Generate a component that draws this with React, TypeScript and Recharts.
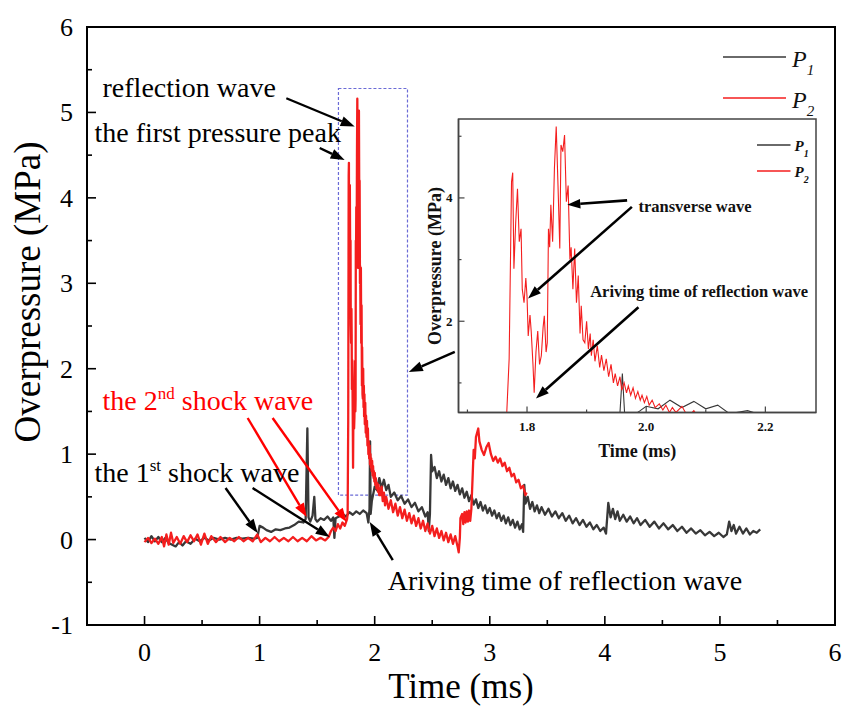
import React from "react";
import {
  LineChart,
  Line,
  XAxis,
  YAxis,
  ReferenceArea,
  ReferenceLine,
  ReferenceDot,
} from "recharts";

type Pt = [number, number];

// P1 (black) — time (ms), overpressure (MPa)
const p1Quiet: Pt[] = [
  [0.0, 0.02], [0.03, -0.03], [0.06, 0.04], [0.09, -0.02], [0.12, 0.03], [0.15, -0.03],
  [0.18, 0.02], [0.21, -0.04], [0.24, -0.06], [0.27, -0.08], [0.3, -0.03], [0.33, -0.07],
  [0.36, -0.02], [0.4, -0.05], [0.44, 0.01], [0.48, -0.02], [0.52, 0.02], [0.56, -0.01],
  [0.6, 0.02], [0.65, 0.0], [0.7, 0.02], [0.75, 0.0], [0.8, 0.02], [0.85, 0.01],
  [0.9, 0.02], [0.95, 0.01], [0.98, 0.02],
];
const p1FirstShock: Pt[] = [
  [1.0, 0.16], [1.03, 0.14], [1.06, 0.11], [1.1, 0.09], [1.14, 0.12], [1.18, 0.11],
  [1.22, 0.13], [1.26, 0.14], [1.3, 0.17], [1.34, 0.21], [1.38, 0.2], [1.4, 0.24],
  [1.415, 1.3], [1.425, 0.26], [1.44, 0.21], [1.46, 0.28], [1.475, 0.5], [1.485, 0.24],
  [1.5, 0.21], [1.53, 0.25], [1.56, 0.23], [1.59, 0.27], [1.62, 0.22], [1.64, 0.26],
  [1.65, 0.02], [1.66, 0.25], [1.69, 0.27], [1.72, 0.3], [1.75, 0.27], [1.78, 0.32],
  [1.81, 0.29], [1.84, 0.33], [1.87, 0.3], [1.9, 0.34], [1.93, 0.31], [1.945, 0.2],
  [1.955, 0.36], [1.96, 1.15], [1.965, 0.3],
];
const p1Reflected: Pt[] = [
  [1.975, 0.45], [1.99, 0.55], [2.0, 0.62], [2.02, 0.58], [2.04, 0.72], [2.06, 0.6],
  [2.08, 0.7], [2.1, 0.58], [2.12, 0.64], [2.14, 0.5], [2.17, 0.55], [2.2, 0.46],
  [2.23, 0.51], [2.26, 0.42], [2.29, 0.47], [2.32, 0.38], [2.35, 0.43], [2.38, 0.33],
  [2.41, 0.38], [2.44, 0.27], [2.46, 0.32], [2.47, 0.1], [2.48, 0.3],
];
const p1SecondRise: Pt[] = [
  [2.49, 0.99], [2.5, 0.8], [2.52, 0.85], [2.54, 0.72], [2.56, 0.8], [2.58, 0.68],
  [2.6, 0.76], [2.62, 0.64], [2.64, 0.72], [2.66, 0.6], [2.68, 0.68], [2.7, 0.57],
  [2.72, 0.64], [2.74, 0.53], [2.76, 0.6], [2.78, 0.49], [2.8, 0.56], [2.82, 0.45],
  [2.84, 0.52], [2.86, 0.41], [2.88, 0.47], [2.9, 0.37], [2.92, 0.44], [2.94, 0.34],
  [2.96, 0.4], [2.98, 0.31], [3.0, 0.37], [3.02, 0.28], [3.04, 0.34], [3.06, 0.25],
  [3.08, 0.31], [3.1, 0.22], [3.12, 0.28], [3.14, 0.19], [3.16, 0.26], [3.18, 0.17],
  [3.2, 0.23], [3.22, 0.14], [3.24, 0.21], [3.26, 0.12], [3.28, 0.18], [3.29, 0.09],
];
const p1Late: Pt[] = [
  [3.3, 0.64], [3.31, 0.42], [3.33, 0.5], [3.35, 0.36], [3.37, 0.44], [3.39, 0.33],
  [3.41, 0.4], [3.43, 0.31], [3.45, 0.38], [3.48, 0.29], [3.51, 0.36], [3.54, 0.27],
  [3.57, 0.33], [3.6, 0.25], [3.63, 0.31], [3.66, 0.22], [3.69, 0.28], [3.72, 0.19],
  [3.75, 0.25], [3.78, 0.17], [3.81, 0.23], [3.84, 0.15], [3.87, 0.2], [3.9, 0.12],
  [3.93, 0.17], [3.96, 0.1], [3.99, 0.14], [4.01, 0.07], [4.03, 0.43], [4.05, 0.26],
  [4.07, 0.36], [4.09, 0.24], [4.11, 0.33], [4.13, 0.22], [4.16, 0.29], [4.19, 0.21],
  [4.22, 0.27], [4.25, 0.19], [4.28, 0.25], [4.31, 0.17], [4.35, 0.23], [4.39, 0.15],
  [4.43, 0.21], [4.47, 0.13], [4.51, 0.19], [4.55, 0.12], [4.59, 0.17], [4.63, 0.1],
  [4.67, 0.15], [4.71, 0.08], [4.75, 0.13], [4.79, 0.07], [4.83, 0.11], [4.87, 0.05],
  [4.91, 0.09], [4.95, 0.04], [4.99, 0.08], [5.03, 0.03], [5.06, 0.06], [5.08, 0.21],
  [5.1, 0.1], [5.12, 0.17], [5.14, 0.07], [5.17, 0.15], [5.2, 0.07], [5.23, 0.13],
  [5.26, 0.06], [5.29, 0.1], [5.32, 0.08], [5.35, 0.12],
];

// P2 (red)
const p2Quiet: Pt[] = [
  [0.0, -0.03], [0.03, 0.02], [0.06, -0.04], [0.09, 0.01], [0.12, -0.05], [0.15, 0.03],
  [0.17, -0.08], [0.19, 0.06], [0.21, -0.06], [0.23, 0.08], [0.25, -0.04], [0.28, 0.03],
  [0.31, -0.05], [0.34, 0.04], [0.37, -0.03], [0.4, 0.05], [0.43, -0.02], [0.46, 0.06],
  [0.49, -0.06], [0.52, 0.07], [0.55, -0.05], [0.58, 0.04], [0.62, -0.03], [0.66, 0.03],
  [0.7, -0.03], [0.74, 0.02], [0.78, -0.02], [0.82, 0.03], [0.86, -0.02], [0.9, 0.02],
  [0.94, -0.02], [0.98, 0.06], [1.01, -0.03], [1.05, 0.02], [1.09, -0.02], [1.13, 0.03],
  [1.17, -0.02], [1.21, 0.02], [1.25, -0.02], [1.29, 0.03], [1.33, -0.02], [1.37, 0.02],
  [1.41, -0.02], [1.45, 0.04], [1.49, -0.01], [1.53, 0.02], [1.57, -0.01], [1.6, 0.03],
  [1.62, 0.1], [1.64, 0.14], [1.66, 0.1], [1.68, 0.18], [1.7, 0.13], [1.72, 0.2],
  [1.74, 0.16], [1.76, 0.24], [1.765, 0.3],
];
const p2Peak: Pt[] = [
  [1.77, 1.39], [1.774, 4.26], [1.776, 4.41], [1.778, 2.85], [1.781, 3.6], [1.784, 4.15],
  [1.787, 3.29], [1.79, 3.5], [1.792, 2.52], [1.795, 2.3], [1.798, 2.7], [1.8, 2.4],
  [1.802, 1.76], [1.805, 2.1], [1.807, 1.84], [1.81, 1.3], [1.812, 0.84], [1.815, 1.5],
  [1.818, 1.84], [1.821, 1.3], [1.824, 1.44], [1.827, 1.9], [1.829, 2.09], [1.832, 1.5],
  [1.834, 1.65], [1.836, 3.5], [1.838, 3.2], [1.84, 3.89], [1.843, 3.29], [1.846, 4.48],
  [1.849, 5.16], [1.852, 4.2], [1.855, 3.18], [1.857, 4.86], [1.86, 4.75], [1.863, 5.02],
  [1.866, 3.94], [1.869, 4.2], [1.872, 3.0], [1.874, 3.2], [1.877, 2.52], [1.88, 3.18],
  [1.883, 2.3], [1.886, 2.74], [1.889, 1.8], [1.891, 2.25], [1.894, 1.7], [1.897, 1.65],
  [1.9, 2.0], [1.903, 1.55], [1.906, 1.8], [1.908, 1.44], [1.911, 1.7], [1.914, 1.35],
  [1.918, 1.6], [1.922, 1.25], [1.925, 1.45], [1.929, 1.2], [1.933, 1.39], [1.937, 1.1],
  [1.941, 1.3], [1.945, 1.0], [1.948, 1.15], [1.952, 0.95], [1.956, 1.1], [1.959, 0.88],
  [1.963, 1.0], [1.967, 0.84], [1.97, 0.95], [1.974, 0.8], [1.978, 0.92], [1.982, 0.75],
  [1.986, 0.86], [1.99, 0.72], [1.993, 0.8], [1.997, 0.68], [2.001, 0.78], [2.005, 0.64],
  [2.01, 0.72], [2.015, 0.6], [2.022, 0.66], [2.028, 0.56], [2.033, 0.64], [2.039, 0.52],
  [2.044, 0.6],
];
const p2Decay: Pt[] = [
  [2.05, 0.52], [2.06, 0.62], [2.07, 0.45], [2.08, 0.55], [2.09, 0.4], [2.1, 0.5],
  [2.12, 0.36], [2.14, 0.46], [2.16, 0.32], [2.18, 0.42], [2.2, 0.28], [2.22, 0.38],
  [2.24, 0.25], [2.26, 0.35], [2.28, 0.22], [2.3, 0.31], [2.32, 0.19], [2.34, 0.28],
  [2.36, 0.16], [2.38, 0.25], [2.4, 0.13], [2.42, 0.22], [2.44, 0.1], [2.46, 0.19],
  [2.48, 0.07], [2.5, 0.16], [2.52, 0.04], [2.54, 0.13], [2.56, 0.02], [2.58, 0.1],
  [2.6, -0.01], [2.62, 0.08], [2.64, -0.03], [2.66, 0.06], [2.68, -0.05], [2.7, 0.04],
  [2.72, -0.08], [2.73, -0.15], [2.74, 0.02], [2.745, 0.25], [2.76, 0.3], [2.77, 0.18],
  [2.78, 0.32], [2.79, 0.2], [2.8, 0.33], [2.81, 0.21], [2.82, 0.34], [2.83, 0.22],
  [2.84, 0.36],
];
const p2SecondPeak: Pt[] = [
  [2.85, 0.7], [2.86, 1.05], [2.87, 0.95], [2.88, 1.2], [2.9, 1.3], [2.91, 1.15],
  [2.93, 1.05], [2.95, 0.99], [2.97, 1.08], [2.99, 1.13], [3.01, 1.0], [3.03, 0.92],
  [3.05, 0.97], [3.07, 0.9], [3.09, 0.95], [3.11, 0.86], [3.13, 0.9], [3.15, 0.8],
  [3.17, 0.84], [3.19, 0.74], [3.21, 0.77], [3.23, 0.67], [3.25, 0.7], [3.27, 0.6],
  [3.29, 0.63], [3.31, 0.52], [3.32, 0.55],
];

const toRows = (pts: Pt[]) => pts.map(([t, v]) => ({ t, v }));

const series = [
  { name: "P", sub: "1", color: "#383838", data: toRows([...p1Quiet, ...p1FirstShock, ...p1Reflected, ...p1SecondRise, ...p1Late]) },
  { name: "P", sub: "2", color: "#f41e1e", data: toRows([...p2Quiet, ...p2Peak, ...p2Decay, ...p2SecondPeak]) },
];

const xTicks = [0, 0.5, 1, 1.5, 2, 2.5, 3, 3.5, 4, 4.5, 5, 5.5, 6];
const yTicks = [-1, -0.5, 0, 0.5, 1, 1.5, 2, 2.5, 3, 3.5, 4, 4.5, 5, 5.5, 6];
const insetXTicks = [1.7, 1.8, 1.9, 2.0, 2.1, 2.2];
const insetYTicks = [1, 2, 3, 4, 5];
const zoomX: [number, number] = [1.685, 2.285];
const zoomY: [number, number] = [0.52, 5.28];

const RED = "#ff0000";
const SERIF = "'Liberation Serif', 'Times New Roman', serif";

// annotations, in data coordinates
const mainNotes = [
  { t: -0.365, v: 5.18, color: "#000", text: "reflection wave" },
  { t: -0.435, v: 4.65, color: "#000", text: "the first pressure peak" },
  { t: -0.365, v: 1.516, color: RED, text: "the 2", sup: "nd", rest: " shock wave" },
  { t: -0.435, v: 0.677, color: "#000", text: "the 1", sup: "st", rest: " shock wave" },
  { t: 2.113, v: -0.59, color: "#000", text: "Ariving time of reflection wave" },
];
const mainArrows = [
  { from: [1.232, 5.166], to: [1.826, 4.834], color: "#000" },
  { from: [1.522, 4.584], to: [1.739, 4.444], color: "#000" },
  { from: [0.896, 1.423], to: [1.409, 0.263], color: RED },
  { from: [1.113, 1.423], to: [1.757, 0.205], color: RED },
  { from: [0.704, 0.603], to: [0.983, 0.076], color: "#000" },
  { from: [0.939, 0.603], to: [1.609, 0.029], color: "#000" },
  { from: [2.157, -0.24], to: [1.957, 0.205], color: "#000" },
  { from: [2.696, 2.196], to: [2.296, 1.961], color: "#000" },
];
const insetNotes = [
  { t: 1.987, v: 3.77, text: "transverse wave" },
  { t: 1.906, v: 2.387, text: "Ariving time of reflection wave" },
];
const insetArrows = [
  { from: [1.968, 3.96], to: [1.8676, 3.89] },
  { from: [1.976, 3.855], to: [1.8017, 2.37] },
  { from: [1.987, 2.226], to: [1.815, 0.748] },
];

function arrowShape(color: string, width: number, head: number) {
  return (p: any) => {
    const { x1, y1, x2, y2 } = p;
    const a = Math.atan2(y2 - y1, x2 - x1);
    const bx = x2 - head * Math.cos(a);
    const by = y2 - head * Math.sin(a);
    const hw = head * 0.36;
    const nx = -Math.sin(a) * hw;
    const ny = Math.cos(a) * hw;
    return (
      <g>
        <line x1={x1} y1={y1} x2={bx} y2={by} stroke={color} strokeWidth={width} />
        <polygon points={`${x2},${y2} ${bx + nx},${by + ny} ${bx - nx},${by - ny}`} fill={color} />
      </g>
    );
  };
}

const MainXTick = (props: any) => {
  const { x, y, payload } = props;
  const major = Number.isInteger(payload.value);
  return (
    <g>
      <line x1={x} x2={x} y1={y} y2={y - (major ? 9 : 5)} stroke="#000" strokeWidth={1.6} />
      {major && (
        <text x={x} y={y + 36} textAnchor="middle" fontSize={26} fontFamily={SERIF} fill="#000">
          {payload.value}
        </text>
      )}
    </g>
  );
};

const MainYTick = (props: any) => {
  const { x, y, payload } = props;
  const major = Number.isInteger(payload.value);
  return (
    <g>
      <line x1={x} x2={x + (major ? 9 : 5)} y1={y} y2={y} stroke="#000" strokeWidth={1.6} />
      {major && (
        <text x={x - 14} y={y + 9} textAnchor="end" fontSize={26} fontFamily={SERIF} fill="#000">
          {payload.value}
        </text>
      )}
    </g>
  );
};

const InsetXTick = (props: any) => {
  const { x, y, payload } = props;
  const major = Math.round(payload.value * 10) % 2 === 0;
  return (
    <g>
      <line x1={x} x2={x} y1={y} y2={y - (major ? 6 : 3)} stroke="#444" strokeWidth={1.2} />
      {major && (
        <text x={x} y={y + 18.5} textAnchor="middle" fontSize={13} fontWeight="bold" fontFamily={SERIF} fill="#111">
          {payload.value.toFixed(1)}
        </text>
      )}
    </g>
  );
};

const InsetYTick = (props: any) => {
  const { x, y, payload } = props;
  const major = payload.value % 2 === 0;
  return (
    <g>
      <line x1={x} x2={x + (major ? 6 : 3)} y1={y} y2={y} stroke="#444" strokeWidth={1.2} />
      {major && (
        <text x={x - 6} y={y + 4.5} textAnchor="end" fontSize={13} fontWeight="bold" fontFamily={SERIF} fill="#111">
          {payload.value}
        </text>
      )}
    </g>
  );
};

function SeriesKey({ left, top, gap, lineLen, fontSize, subSize, bold }: any) {
  return (
    <svg
      width={lineLen + 60}
      height={gap + 30}
      style={{ position: "absolute", left, top: top - 10, overflow: "visible", pointerEvents: "none" }}
    >
      {series.map((s, i) => (
        <g key={s.sub}>
          <line x1={0} x2={lineLen} y1={10 + i * gap} y2={10 + i * gap} stroke={s.color} strokeWidth={1.3} />
          <text
            x={lineLen + (bold ? 4 : 6)}
            y={10 + i * gap + fontSize * 0.42}
            fontSize={fontSize}
            fontStyle="italic"
            fontWeight={bold ? "bold" : "normal"}
            fontFamily={SERIF}
            fill="#111"
          >
            {s.name}
            <tspan dy={fontSize * 0.35} fontSize={subSize}>
              {s.sub}
            </tspan>
          </text>
        </g>
      ))}
    </svg>
  );
}

export default function App() {
  return (
    <div style={{ position: "absolute", left: 0, top: 0, width: 844, height: 707, background: "#fff" }}>
      <LineChart width={844} height={707} margin={{ top: 27, right: 9, bottom: 0, left: 0 }}>
        <XAxis
          type="number"
          dataKey="t"
          domain={[-0.5, 6]}
          ticks={xTicks}
          interval={0}
          allowDataOverflow
          height={82}
          tickSize={0}
          tickMargin={0}
          tickLine={false}
          axisLine={{ stroke: "#000", strokeWidth: 2 }}
          tick={MainXTick}
          label={{
            content: (p: any) => {
              const vb = p.viewBox || { x: 87, y: 625, width: 748 };
              return (
                <text x={vb.x + vb.width / 2} y={vb.y + 73} textAnchor="middle" fontSize={35} fontFamily={SERIF} fill="#000">
                  Time (ms)
                </text>
              );
            },
          }}
        />
        <YAxis
          type="number"
          dataKey="v"
          domain={[-1, 6]}
          ticks={yTicks}
          interval={0}
          allowDataOverflow
          width={87}
          tickSize={0}
          tickMargin={0}
          tickLine={false}
          axisLine={{ stroke: "#000", strokeWidth: 2 }}
          tick={MainYTick}
          label={{
            content: () => (
              <text x={40} y={292} transform="rotate(-90 40 292)" textAnchor="middle" fontSize={37} fontFamily={SERIF} fill="#000">
                Overpressure (MPa)
              </text>
            ),
          }}
        />
        <ReferenceArea x1={-0.5} x2={6} y1={-1} y2={6} fill="none" stroke="#000" strokeWidth={2} ifOverflow="visible" />
        <ReferenceArea
          x1={zoomX[0]}
          x2={zoomX[1]}
          y1={zoomY[0]}
          y2={zoomY[1]}
          fill="none"
          stroke="#6b6bd6"
          strokeWidth={1.2}
          strokeDasharray="3 2"
          ifOverflow="visible"
        />
        {series.map((s) => (
          <Line
            key={s.sub}
            data={s.data}
            dataKey="v"
            type="linear"
            stroke={s.color}
            strokeWidth={2.3}
            strokeLinejoin="round"
            dot={false}
            isAnimationActive={false}
          />
        ))}
        {mainArrows.map((a, i) => (
          <ReferenceLine
            key={`ma${i}`}
            segment={[
              { x: a.from[0], y: a.from[1] },
              { x: a.to[0], y: a.to[1] },
            ]}
            ifOverflow="visible"
            shape={arrowShape(a.color, 2.4, 14)}
          />
        ))}
        {mainNotes.map((n, i) => (
          <ReferenceDot
            key={`mn${i}`}
            x={n.t}
            y={n.v}
            r={0}
            ifOverflow="visible"
            shape={(p: any) => (
              <text x={p.cx} y={p.cy} fontSize={28} fontFamily={SERIF} fill={n.color}>
                {n.text}
                {n.sup && (
                  <tspan dy={-11} fontSize={17}>
                    {n.sup}
                  </tspan>
                )}
                {n.rest && <tspan dy={11}>{n.rest}</tspan>}
              </text>
            )}
          />
        ))}
      </LineChart>

      <SeriesKey left={722.7} top={56.7} gap={41} lineLen={63} fontSize={24} subSize={15} bold={false} />

      <div style={{ position: "absolute", left: 400, top: 100, width: 430, height: 380, pointerEvents: "none" }}>
        <LineChart width={430} height={380} margin={{ top: 19, right: 14, bottom: 0, left: 0 }}>
          <XAxis
            type="number"
            dataKey="t"
            domain={zoomX}
            ticks={insetXTicks}
            interval={0}
            allowDataOverflow
            height={67.5}
            tickSize={0}
            tickMargin={0}
            tickLine={false}
            axisLine={{ stroke: "#444", strokeWidth: 1.5 }}
            tick={InsetXTick}
            label={{
              content: (p: any) => {
                const vb = p.viewBox || { x: 58.5, y: 312.5, width: 357.5 };
                return (
                  <text x={vb.x + vb.width / 2} y={vb.y + 44.5} textAnchor="middle" fontSize={18} fontWeight="bold" fontFamily={SERIF} fill="#111">
                    Time (ms)
                  </text>
                );
              },
            }}
          />
          <YAxis
            type="number"
            dataKey="v"
            domain={zoomY}
            ticks={insetYTicks}
            interval={0}
            allowDataOverflow
            width={58.5}
            tickSize={0}
            tickMargin={0}
            tickLine={false}
            axisLine={{ stroke: "#444", strokeWidth: 1.5 }}
            tick={InsetYTick}
            label={{
              content: () => (
                <text x={41} y={166} transform="rotate(-90 41 166)" textAnchor="middle" fontSize={18} fontWeight="bold" fontFamily={SERIF} fill="#111">
                  Overpressure (MPa)
                </text>
              ),
            }}
          />
          <ReferenceArea
            x1={zoomX[0]}
            x2={zoomX[1]}
            y1={zoomY[0]}
            y2={zoomY[1]}
            fill="#fff"
            fillOpacity={1}
            stroke="#444"
            strokeWidth={1.5}
            ifOverflow="visible"
          />
          {series.map((s) => (
            <Line
              key={s.sub}
              data={s.data}
              dataKey="v"
              type="linear"
              stroke={s.color}
              strokeWidth={1.1}
              dot={false}
              isAnimationActive={false}
            />
          ))}
          {insetArrows.map((a, i) => (
            <ReferenceLine
              key={`ia${i}`}
              segment={[
                { x: a.from[0], y: a.from[1] },
                { x: a.to[0], y: a.to[1] },
              ]}
              ifOverflow="visible"
              shape={arrowShape("#000", 2.6, 13)}
            />
          ))}
          {insetNotes.map((n, i) => (
            <ReferenceDot
              key={`in${i}`}
              x={n.t}
              y={n.v}
              r={0}
              ifOverflow="visible"
              shape={(p: any) => (
                <text x={p.cx} y={p.cy} fontSize={16.5} fontWeight="bold" fontFamily={SERIF} fill="#111">
                  {n.text}
                </text>
              )}
            />
          ))}
        </LineChart>
      </div>

      <SeriesKey left={756.5} top={144.8} gap={26} lineLen={33.5} fontSize={15} subSize={10} bold />
    </div>
  );
}
